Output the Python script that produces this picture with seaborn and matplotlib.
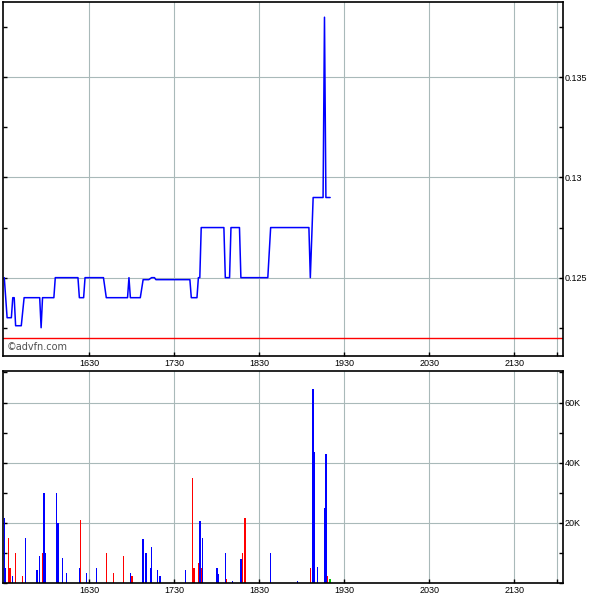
import pandas as pd
import matplotlib
matplotlib.use("Agg")
import matplotlib.pyplot as plt
import seaborn as sns
from matplotlib.ticker import MultipleLocator, FixedLocator, FuncFormatter

# ==================== CONFIG ====================
sns.set_theme(style="white")
plt.rcParams["font.family"] = ["Liberation Sans", "DejaVu Sans"]

# ==================== DATA ====================
# intraday trades (HH:MM)
price_times = ["15:30", "15:32", "15:35", "15:36", "15:37", "15:38", "15:42", "15:44",
               "15:55", "15:56", "15:57", "16:05", "16:06", "16:22", "16:23", "16:26",
               "16:27", "16:40", "16:42", "16:57", "16:58", "16:59", "17:06", "17:08",
               "17:12", "17:14", "17:16", "17:17", "17:41", "17:42", "17:46", "17:47",
               "17:48", "17:49", "18:05", "18:06", "18:09", "18:10", "18:16", "18:17",
               "18:36", "18:38", "19:05", "19:06", "19:08", "19:15", "19:16", "19:17",
               "19:20"]
prices = [0.125, 0.123, 0.123, 0.124, 0.124, 0.1226, 0.1226, 0.124,
          0.124, 0.1225, 0.124, 0.124, 0.125, 0.125, 0.124, 0.124,
          0.125, 0.125, 0.124, 0.124, 0.125, 0.124, 0.124, 0.1249,
          0.1249, 0.125, 0.125, 0.1249, 0.1249, 0.124, 0.124, 0.125,
          0.125, 0.1275, 0.1275, 0.125, 0.125, 0.1275, 0.1275, 0.125,
          0.125, 0.1275, 0.1275, 0.125, 0.129, 0.129, 0.138, 0.129,
          0.129]
prev_close = 0.122

vol_times = ["15:30", "15:31", "15:33", "15:34", "15:36", "15:38", "15:43", "15:45",
             "15:53", "15:55", "15:57", "15:58", "15:59", "16:07", "16:08", "16:11",
             "16:14", "16:23", "16:24", "16:28", "16:35", "16:42", "16:47", "16:54",
             "16:59", "17:00", "17:08", "17:10", "17:13", "17:14", "17:18", "17:20",
             "17:38", "17:43", "17:44", "17:47", "17:48", "17:49", "17:50", "18:00",
             "18:01", "18:06", "18:07", "18:11", "18:17", "18:18", "18:20", "18:38",
             "18:57", "19:06", "19:08", "19:09", "19:11", "19:16", "19:17", "19:18",
             "19:20"]
volumes = [21500, 5000, 15000, 5000, 2400, 10000, 2100, 15000,
           4100, 9000, 10000, 30000, 10000, 30000, 20000, 8300,
           3100, 5000, 21000, 3100, 5000, 10000, 3100, 9000,
           3400, 2400, 14400, 10000, 5000, 12000, 4100, 2100,
           4100, 35000, 5000, 6400, 20700, 5000, 15000, 5000,
           2800, 10000, 1100, 500, 8000, 10000, 21400, 10000,
           700, 5000, 64400, 43400, 5400, 25000, 43000, 2300,
           1300]
vol_side = ["b", "b", "r", "r", "b", "r", "r", "b",
            "b", "b", "r", "b", "b", "b", "b", "b",
            "b", "b", "r", "b", "b", "r", "r", "r",
            "b", "r", "b", "b", "b", "b", "b", "b",
            "b", "r", "r", "r", "b", "r", "b", "b",
            "b", "b", "r", "b", "b", "r", "r", "b",
            "b", "r", "b", "b", "b", "b", "b", "r",
            "g"]

hour_ticks = ["16:30", "17:30", "18:30", "19:30", "20:30", "21:30", "22:00"]
hour_labels = ["1630", "1730", "1830", "1930", "2030", "2130", ""]

side_colours = {"b": "#0000ff", "r": "#ff0000", "g": "#00c800"}


def to_min(t):
    h, m = t.split(":")
    return int(h) * 60 + int(m)


price = pd.DataFrame({"t": [to_min(t) for t in price_times], "price": prices})
vol = pd.DataFrame({"t": [to_min(t) for t in vol_times], "vol": volumes, "side": vol_side})

# ==================== FIGURE ====================
fig = plt.figure(figsize=(6, 6), dpi=100)
ax1 = fig.add_axes([0.005, 0.4067, 0.933, 0.59])
ax2 = fig.add_axes([0.005, 0.0288, 0.933, 0.3529])

GRID = "#a9b9b9"
for ax in (ax1, ax2):
    ax.set_facecolor("white")
    ax.set_xlim(929.1, 1324.2)
    ax.set_xticks([to_min(t) for t in hour_ticks], hour_labels)
    ax.grid(True, which="major", color=GRID, lw=0.8)
    ax.set_axisbelow(True)
    ax.yaxis.tick_right()
    ax.tick_params(which="both", direction="in", left=True, right=True, bottom=True,
                   top=False, labelleft=False, labelright=True, labelsize=6.5,
                   length=3, width=1, color="black", labelcolor="black")
    ax.tick_params(axis="x", pad=2.5)
    ax.tick_params(axis="y", pad=1.5)
    for s in ax.spines.values():
        s.set_color("black")
        s.set_linewidth(1.2)

# price panel
ax1.axhline(prev_close, color="#ff0000", lw=1.0)
sns.lineplot(data=price, x="t", y="price", sort=False, estimator=None,
             color="#0000ff", lw=1.1, ax=ax1)
ax1.set_ylim(0.12109, 0.13876)
ax1.yaxis.set_major_locator(MultipleLocator(0.005))
ax1.yaxis.set_minor_locator(MultipleLocator(0.0025))
ax1.yaxis.set_major_formatter(FuncFormatter(lambda v, p: f"{v:g}"))
ax1.set_xlabel("")
ax1.set_ylabel("")
ax1.text(0.007, 0.011, "\u00a9advfn.com", transform=ax1.transAxes, fontsize=7,
         color="#505050", family="DejaVu Sans", va="bottom", ha="left")

# volume panel
ax2.bar(vol["t"], vol["vol"], width=1.0, color=[side_colours[s] for s in vol["side"]],
        linewidth=0)
ax2.set_ylim(0, 70500)
ax2.yaxis.set_major_locator(FixedLocator([20000, 40000, 60000]))
ax2.yaxis.set_minor_locator(MultipleLocator(10000))
ax2.yaxis.set_major_formatter(FuncFormatter(lambda v, p: f"{int(v / 1000)}K"))
ax2.set_xlabel("")
ax2.set_ylabel("")

fig.savefig("out.png", dpi=100, facecolor="white")
